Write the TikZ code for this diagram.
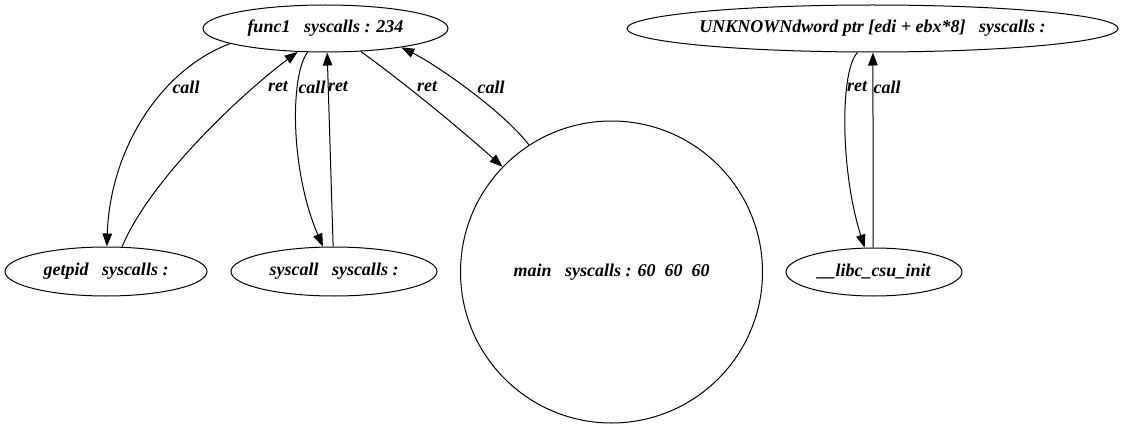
\documentclass[tikz,border=0pt]{standalone}
\usepackage{fontspec}
\setmainfont{Liberation Serif}
\usetikzlibrary{shapes.geometric,arrows.meta}
\begin{document}
\begin{tikzpicture}[x=1pt,y=-1pt,
  every node/.style={font=\fontsize{18}{21}\selectfont\bfseries\itshape},
  fn/.style={draw, ellipse, inner sep=0pt, line width=1pt},
  lbl/.style={inner sep=0pt},
  conn/.style={draw, line width=1pt, -{Triangle[length=13pt,width=9.5pt]}}]
\useasboundingbox (0,0) rectangle (1125,428);
\node[fn, minimum width=245pt, minimum height=47pt] (func1) at (325.5,28.5) {func1\ \ \ syscalls : 234};
\node[fn, minimum width=491pt, minimum height=47pt] (unk) at (872.5,28.5) {UNKNOWNdword ptr [edi + ebx*8]\ \ \ syscalls :};
\node[fn, minimum width=202pt, minimum height=49pt] (getpid) at (106,271.5) {getpid\ \ \ syscalls :};
\node[fn, minimum width=206pt, minimum height=49pt] (syscall) at (334,271.5) {syscall\ \ \ syscalls :};
\node[draw, circle, minimum size=302pt, inner sep=0pt, line width=1pt] (main) at (611.5,272) {main\ \ \ syscalls : 60\ \ 60\ \ 60};
\node[fn, minimum width=176pt, minimum height=48pt] (libc) at (874,272) {\_\_libc\_csu\_init};

\draw[conn] (func1.189) .. controls (160,70) and (110,150) .. (getpid.88);
\draw[conn] (getpid.57) .. controls (150,180) and (240,95) .. (func1.220);
\draw[conn] (func1.233) .. controls (290,75) and (290,170) .. (syscall.114);
\draw[conn] (syscall.92) -- (func1.274);
\draw[conn] (func1.327) .. controls (400,80) and (450,120) .. (main.136);
\draw[conn] (main.123) .. controls (502,110) and (435,64) .. (func1.346);
\draw[conn] (unk.238) .. controls (840,70) and (840,170) .. (libc.111);
\draw[conn] (libc.92) -- (unk.271);

\node[lbl] (l1) at (186,87) {call};
\node[lbl] (l2) at (278,87) {ret};
\node[lbl] (l3) at (312,87) {call};
\node[lbl] (l4) at (338,87) {ret};
\node[lbl] (l5) at (427,87) {ret};
\node[lbl] (l6) at (491,87) {call};
\node[lbl] (l7) at (857,87) {ret};
\node[lbl] (l8) at (887,87) {call};
\end{tikzpicture}
\end{document}
